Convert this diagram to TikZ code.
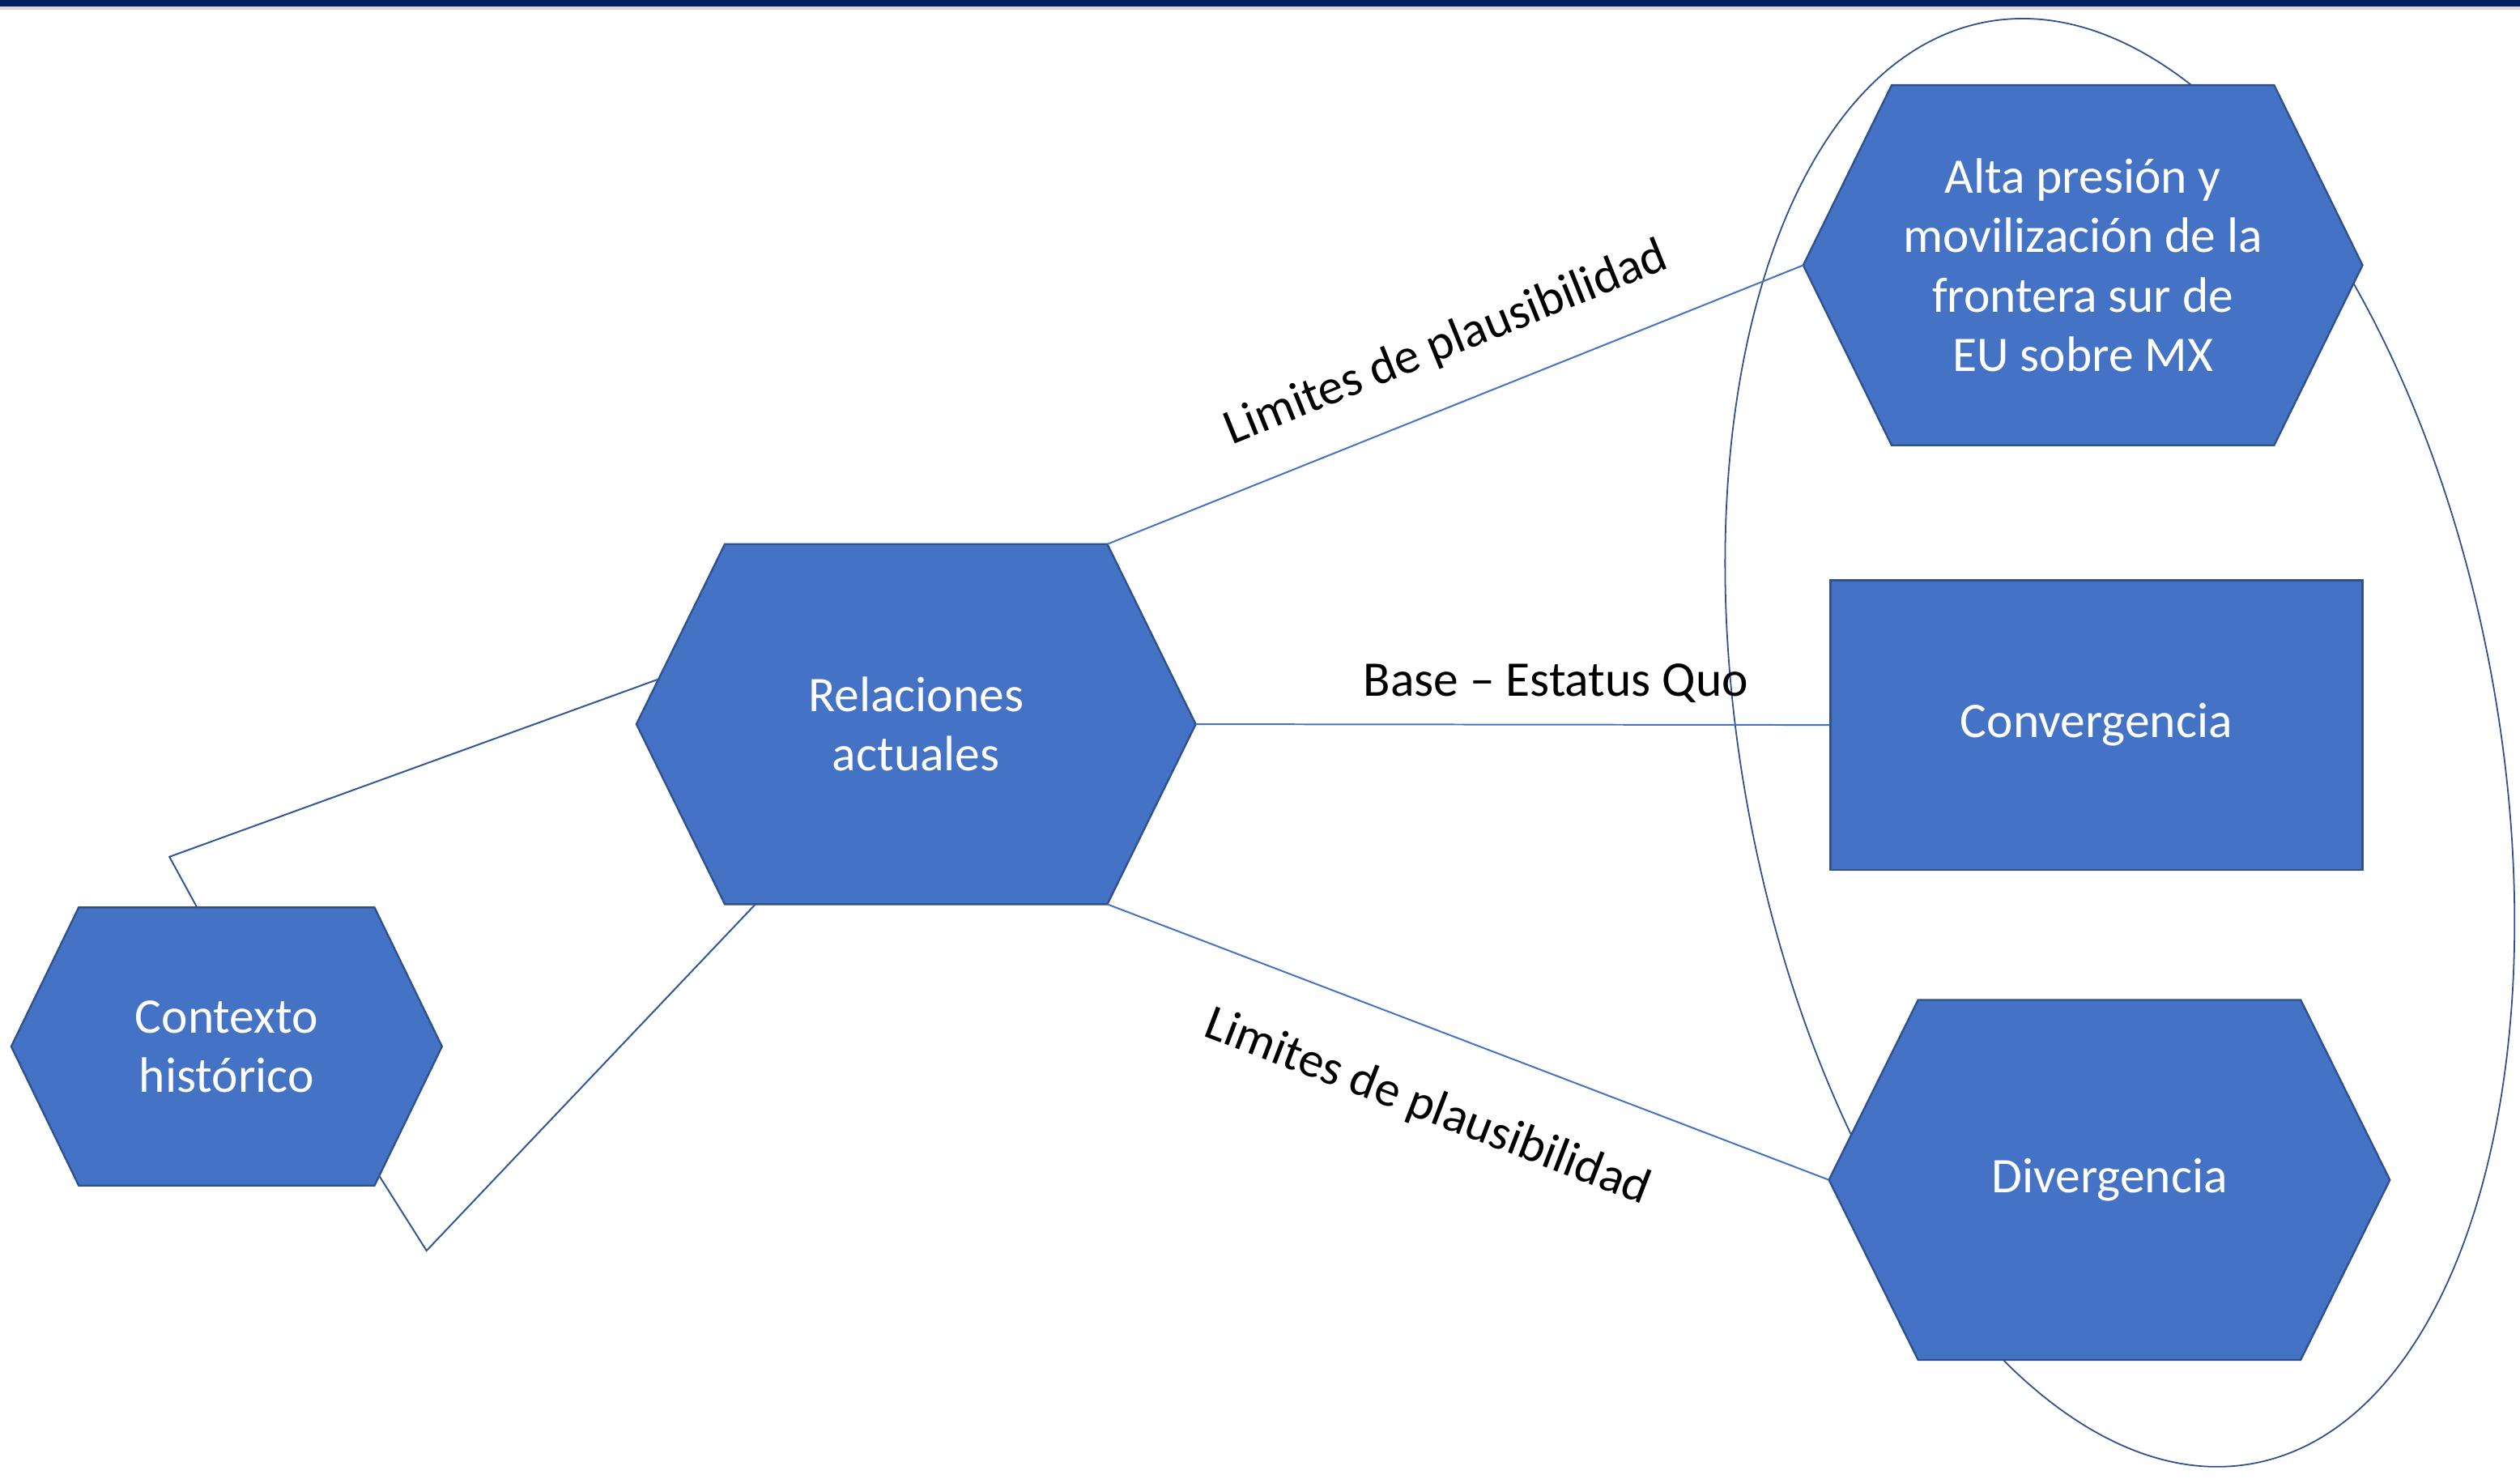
\documentclass[tikz,border=0pt]{standalone}
\usepackage{fontspec}
\setmainfont{Carlito}
\usetikzlibrary{calc}

\definecolor{hexblue}{HTML}{4472C4}
\definecolor{hexline}{HTML}{2F528F}
\definecolor{topbar}{HTML}{002060}

% name, cx, cy, half width, half height, inset, text
\newcommand{\hexa}[7]{%
  \draw[hexshape] (#2-#4,#3) coordinate (#1-w)
    -- (#2-#4+#6,#3+#5) coordinate (#1-nw)
    -- (#2+#4-#6,#3+#5) coordinate (#1-ne)
    -- (#2+#4,#3) coordinate (#1-e)
    -- (#2+#4-#6,#3-#5) coordinate (#1-se)
    -- (#2-#4+#6,#3-#5) coordinate (#1-sw)
    -- cycle;
  \node[hextext] (#1) at (#2,#3) {#7};
}

\begin{document}
\begin{tikzpicture}[x=1pt, y=1pt,
        hexshape/.style={fill=hexblue, draw=hexline, line width=1.2pt},
        hextext/.style={text=white, align=center, font=\fontsize{31}{37}\selectfont},
        boxshape/.style={rectangle, fill=hexblue, draw=hexline, line width=1.2pt,
                minimum width=331pt, minimum height=180pt,
                text=white, font=\fontsize{31}{37}\selectfont},
        link/.style={draw=hexblue, line width=1pt},
        tie/.style={draw=hexline!85!hexblue, line width=1pt},
        linklabel/.style={font=\fontsize{31}{37}\selectfont, inner sep=0pt},
        ring/.style={draw=hexline, line width=0.9pt}]
    \useasboundingbox (0,0) rectangle (1568,920);
    % cabecera
    \fill[topbar] (0,915.8) rectangle (1568,920);
    \fill[black!15] (0,914) rectangle (1568,915.8);

    % elipse de escenarios
    \draw[ring, rotate around={10.5:(1319,458)}] (1319,458) ellipse [x radius=235, y radius=456];

    % hexagonos
    \hexa{ctx}{141}{269}{134}{86.5}{42}{Contexto\\histórico}
    \hexa{rel}{570}{469.5}{174}{112}{55}{Relaciones\\actuales}
    \hexa{alta}{1296}{755}{174}{112}{55}{Alta presión y\\movilización de la\\frontera sur de\\EU sobre MX}
    \hexa{div}{1312.5}{186}{174.5}{112}{55.5}{Divergencia}
    \node[boxshape] (conv) at (1304.4,469) {Convergencia};

    % conectores
    \draw[link] (rel-ne) -- (alta-w);
    \draw[link] (rel-e) -- (conv.west);
    \draw[link] (rel-se) -- (div-w);
    \coordinate (bend-up) at (105.4,387);
    \coordinate (bend-down) at (265.4,142);
    \draw[tie] ($(ctx-nw)!0.4!(ctx-ne)$) -- (bend-up) -- ($(rel-w)!0.25!(rel-nw)$);
    \draw[tie] ($(ctx-se)!0.07!(ctx-e)$) -- (bend-down) -- ($(rel-sw)!0.08!(rel-se)$);

    % etiquetas
    \node[linklabel, rotate=22] (lim-up) at (900,706) {Limites de plausibilidad};
    \node[linklabel] (base) at (968,495) {Base – Estatus Quo};
    \node[linklabel, rotate=-21] (lim-down) at (888,231) {Limites de plausibilidad};
\end{tikzpicture}
\end{document}
